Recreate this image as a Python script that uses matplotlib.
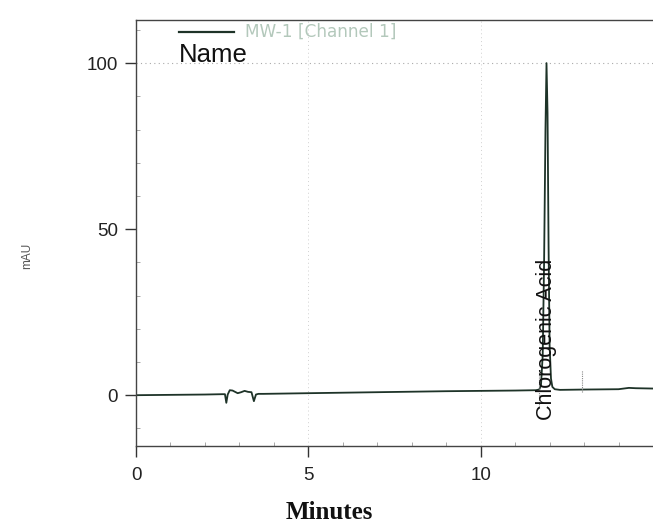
import matplotlib
matplotlib.use("Agg")
import matplotlib.pyplot as plt
from matplotlib.ticker import MultipleLocator

# ---- data ----
time_min = [0.0, 1.0, 2.0, 2.5, 2.58, 2.62, 2.66, 2.72, 2.8, 2.95, 3.05, 3.15, 3.25,
            3.35, 3.42, 3.48, 3.55, 3.7, 5.0, 7.0, 9.0, 11.0, 11.6, 11.7, 11.75,
            11.8, 11.84, 11.88, 11.91, 11.94, 11.97, 12.0, 12.04, 12.08, 12.15,
            12.3, 13.0, 14.0, 14.3, 14.5, 15.0]
mau = [0.0, 0.1, 0.2, 0.3, 0.3, -2.3, 0.2, 1.5, 1.4, 0.6, 0.9, 1.3, 1.0,
       0.9, -1.8, 0.2, 0.4, 0.4, 0.6, 0.9, 1.2, 1.4, 1.5, 1.7, 3.0,
       12.0, 40.0, 80.0, 100.0, 85.0, 45.0, 15.0, 5.0, 2.5, 1.8,
       1.6, 1.7, 1.8, 2.2, 2.1, 2.0]
peak_name = "Chlorogenic Acid"
peak_label_x = 11.92
marker_x = 12.95
legend_name = "MW-1 [Channel 1]"
x_ticks = [0, 5, 10]
y_ticks = [0, 50, 100]

fig = plt.figure(figsize=(6.53, 5.27), dpi=100)
ax = fig.add_axes([0.2083, 0.1537, 0.7917, 0.8085])
line_color = "#1e3328"
ax.plot(time_min, mau, color=line_color, lw=1.3)
ax.set_xlim(0, 15)
ax.set_ylim(-15.3, 113)

ax.set_xticks(x_ticks)
ax.set_yticks(y_ticks)
ax.xaxis.set_minor_locator(MultipleLocator(1))
ax.yaxis.set_minor_locator(MultipleLocator(10))
ax.tick_params(which="major", direction="out", length=8, width=1,
               labelsize=13.5, colors="#333333")
ax.tick_params(axis="x", which="major", pad=7)
ax.tick_params(axis="y", which="major", pad=5)
ax.tick_params(which="minor", direction="in", length=3, width=0.6,
               colors="#999999")
for lab in ax.get_xticklabels() + ax.get_yticklabels():
    lab.set_fontfamily("Liberation Sans")
    lab.set_color("#222222")

ax.spines["right"].set_visible(False)
for s in ["left", "bottom", "top"]:
    ax.spines[s].set_color("#444444")
    ax.spines[s].set_linewidth(1.0)

ax.grid(True, axis="x", which="major", linestyle=(0, (1, 3)), color="#d0d0d0", lw=0.7)
ax.axhline(100, linestyle=(0, (1, 3)), color="#aaaaaa", lw=0.8, zorder=0)

# peak annotation
ax.text(peak_label_x, -7.4, peak_name, rotation=90, ha="center", va="bottom",
        fontsize=15.5, family="Liberation Sans", color="#111111")
ax.vlines([11.7], -3.5, 7, colors="#888888", lw=0.8, linestyles=(0, (1, 1)))
ax.vlines([marker_x], 1.0, 7.5, colors="#888888", lw=0.8, linestyles=(0, (1, 1)))

# legend-like header
ax.plot([1.25, 2.85], [109.3, 109.3], color=line_color, lw=1.6, clip_on=False)
ax.text(3.15, 109.3, legend_name, fontsize=12.2, color="#b3c8bb",
        family="DejaVu Sans", va="center", ha="left")
ax.text(1.25, 102.3, "Name", fontsize=18.5, color="#111111",
        family="Liberation Sans", va="center", ha="left")

fig.text(0.042, 0.515, "mAU", rotation=90, fontsize=8.5, color="#555555",
         family="Liberation Sans", ha="center", va="center")
fig.text(0.505, 0.027, "Minutes", fontsize=18, fontweight="bold",
         family="Liberation Serif", ha="center", va="center", color="#111111")

fig.savefig("out.png", dpi=100)
